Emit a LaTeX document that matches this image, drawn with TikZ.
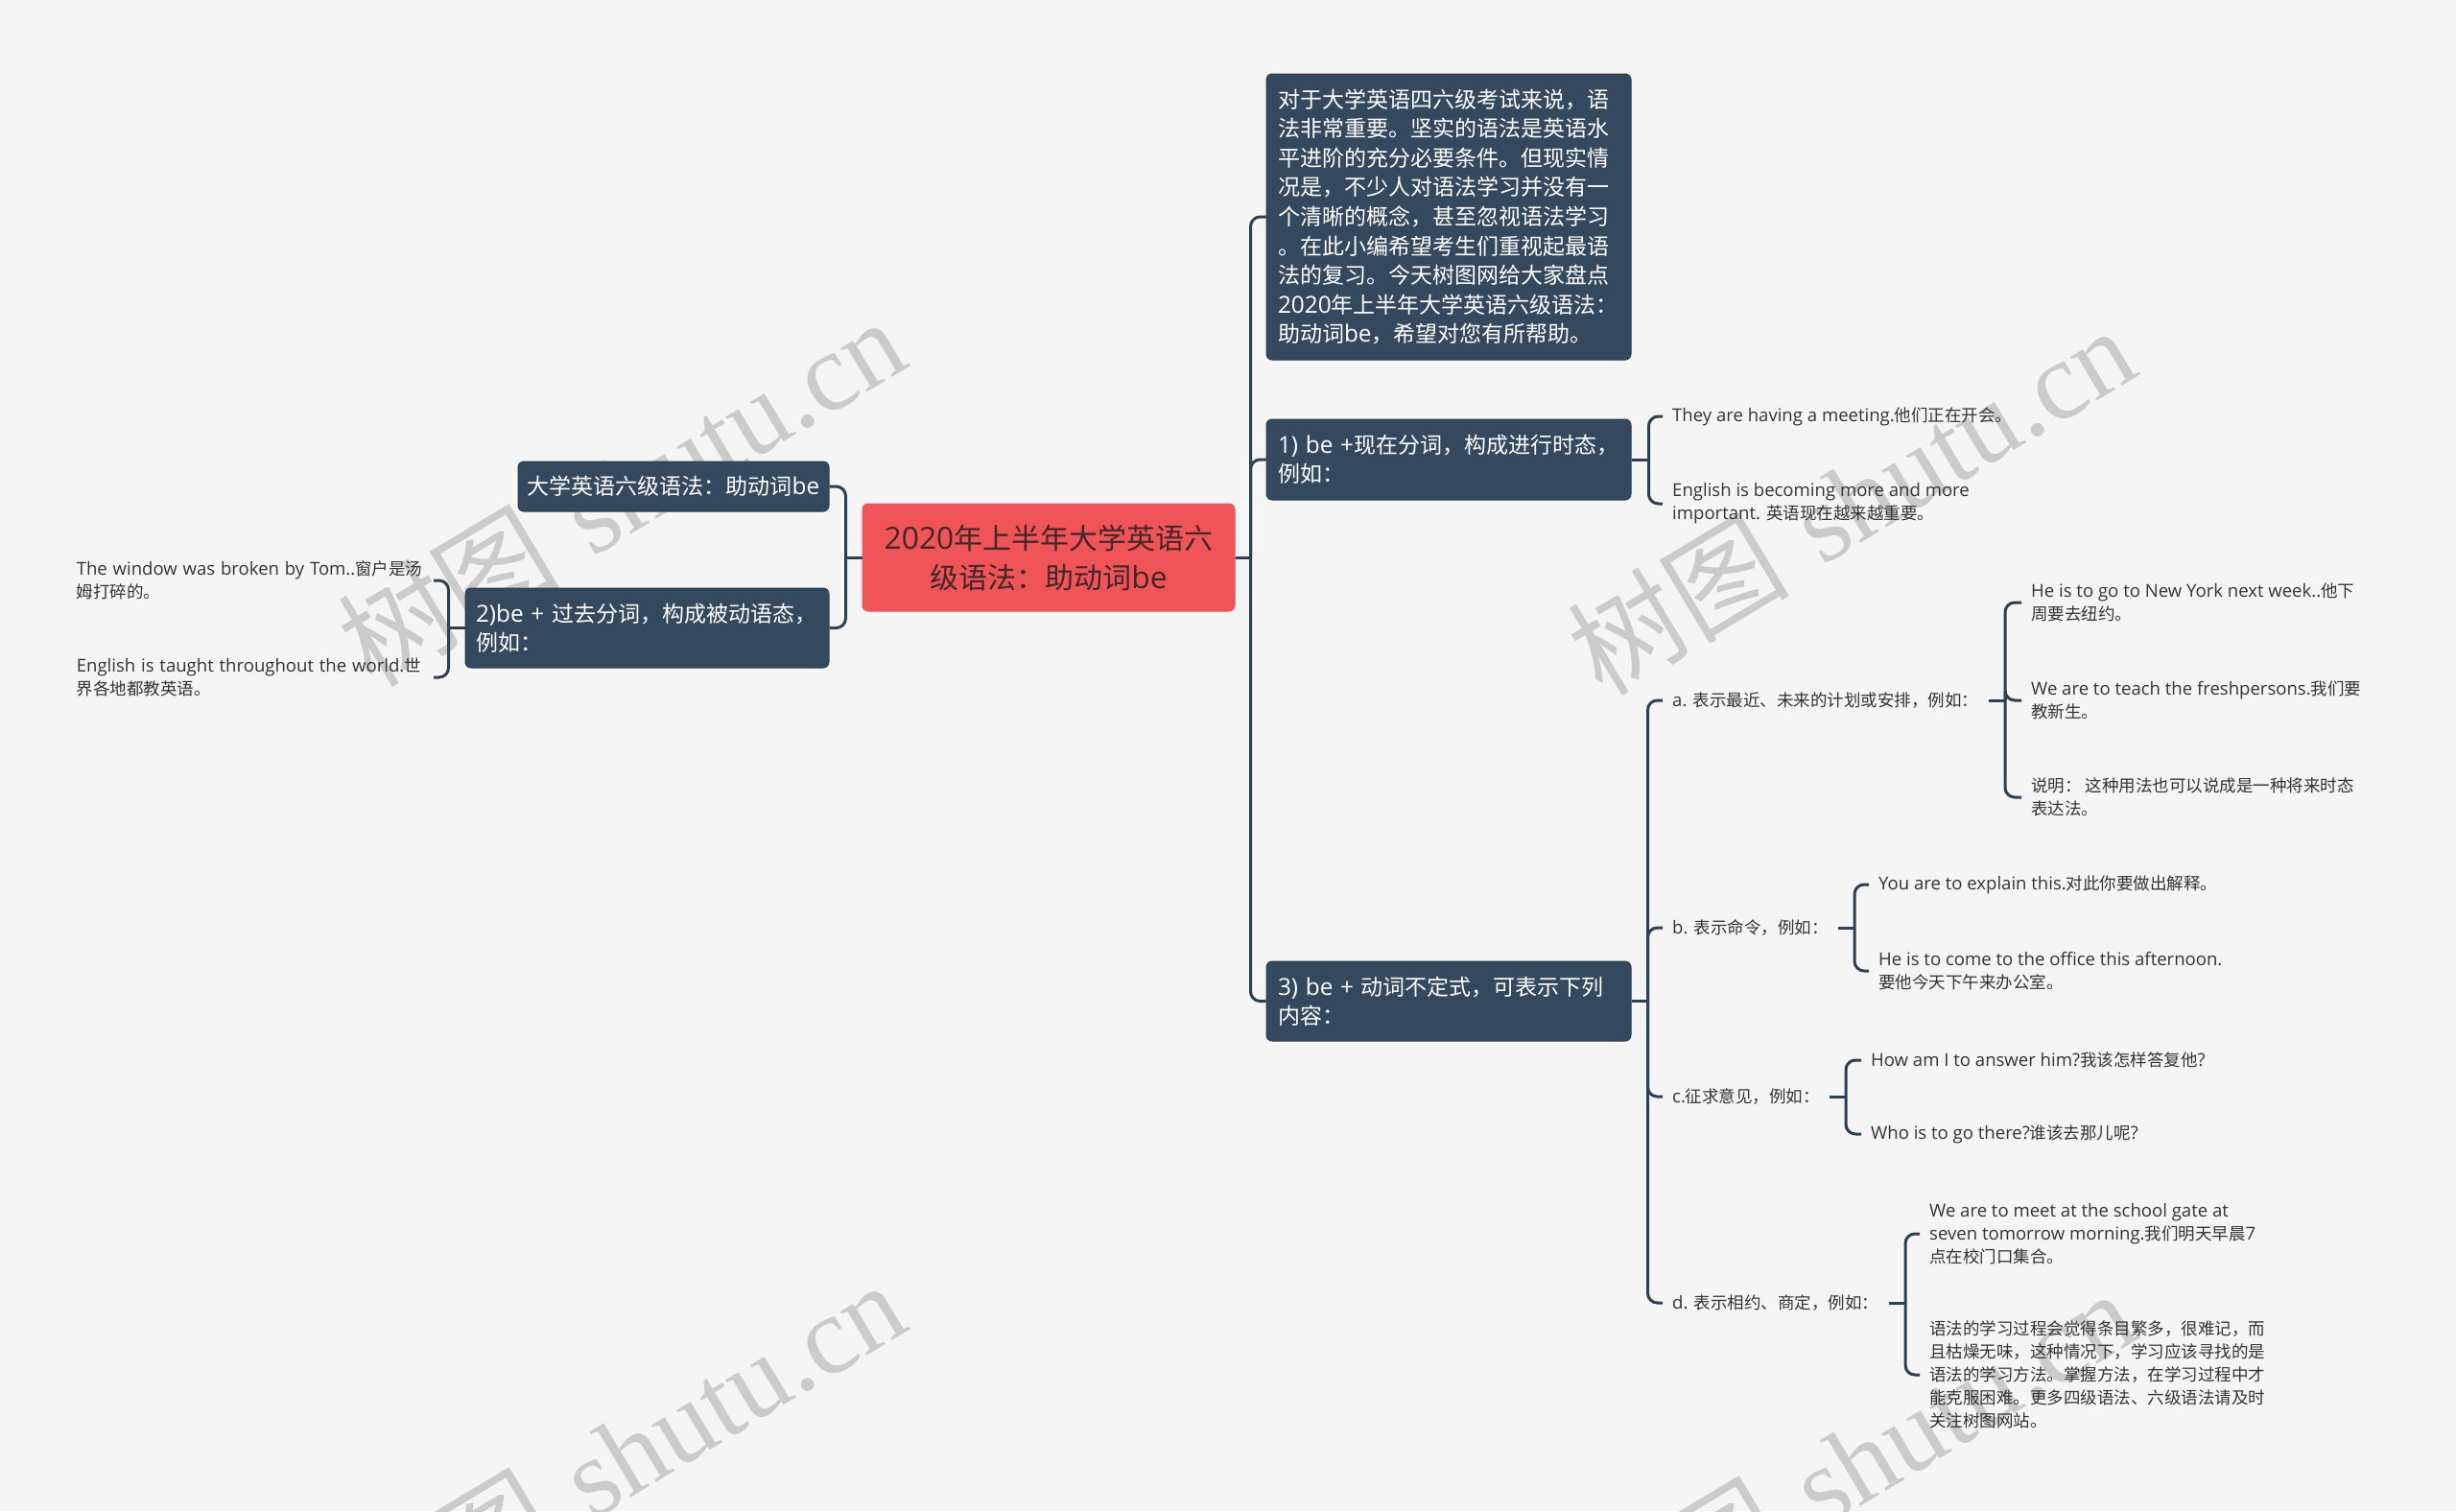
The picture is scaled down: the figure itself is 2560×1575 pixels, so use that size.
\documentclass[tikz,border=0pt]{standalone}
\usepackage{fontspec}
\newfontfamily\cjk{Noto Sans CJK SC}
\newfontfamily\lat[Scale=1.06]{Open Sans}
\newfontfamily\wmserif{Liberation Serif}
\newcommand\E[1]{{\lat #1}}
\definecolor{bgc}{HTML}{F5F5F5}
\definecolor{boxc}{HTML}{34495E}
\definecolor{boxd}{HTML}{2A3B4D}
\definecolor{linec}{HTML}{2E4053}
\definecolor{redc}{HTML}{F05458}
\definecolor{redt}{HTML}{3E2828}
\definecolor{leaft}{HTML}{333333}
\definecolor{wmc}{HTML}{CBCBCB}
\tikzset{
  box/.style={rectangle, rounded corners=6pt, fill=boxc, draw=boxd, line width=1pt,
    text=white, align=left, inner xsep=12pt, inner ysep=0pt,
    font=\cjk\fontsize{23}{30}\selectfont},
  root/.style={rectangle, rounded corners=6pt, fill=redc, draw=redc, line width=1pt,
    text=redt, align=center, inner xsep=10pt, inner ysep=0pt,
    minimum width=388pt, minimum height=112pt, text width=368pt,
    font=\cjk\fontsize{30}{41}\selectfont},
  leaf/.style={anchor=west, align=left, inner xsep=10pt, inner ysep=2pt, text=leaft,
    font=\cjk\fontsize{17.5}{24}\selectfont},
  leafl/.style={leaf, anchor=east, text width=362pt},
  conn/.style={draw=linec, line width=3pt, rounded corners=10pt},
  stub/.style={draw=linec, line width=3pt},
  wmark/.style={rotate=31, text=wmc, inner sep=0pt, font=\fontsize{116}{116}\selectfont},
}
\begin{document}
\begin{tikzpicture}[x=1pt,y=-1pt]
\useasboundingbox (0,0) rectangle (2560,1575);
\fill[bgc] (0,0) rectangle (2560,1575);
% watermarks
\begin{scope}
\clip (0,0) rectangle (2560,1575);
\node[wmark] (wm1) at (647,512) {{\cjk 树图}\ {\wmserif shutu.cn}};
\node[wmark] (wm2) at (1929,521) {{\cjk 树图}\ {\wmserif shutu.cn}};
\node[wmark] (wm3) at (647,1516) {{\cjk 树图}\ {\wmserif shutu.cn}};
\node[wmark] (wm4) at (1929,1525) {{\cjk 树图}\ {\wmserif shutu.cn}};
\end{scope}

% central
\node[root] (C) at (1093,581) {\E{2020}年上半年大学英语六\\级语法：助动词\E{be}};

% left side
\node[box, align=center, inner xsep=8pt, minimum width=324pt, minimum height=52pt, text width=308pt]
  (L1) at (702,507) {大学英语六级语法：助动词\E{be}};
\node[box, inner xsep=11pt, minimum width=379pt, minimum height=83pt, text width=357pt]
  (L2) at (674.5,654.5) {\E{2)be + }过去分词，构成被动语态，\\例如：};
\node[leafl] (LL1) at (452,605) {\E{The window was broken by Tom..}窗户是汤\\姆打碎的。};
\node[leafl] (LL2) at (452,706) {\E{English is taught throughout the world.}世\\界各地都教英语。};

% right side boxes
\node[box, minimum width=380pt, minimum height=298pt, text width=356pt, font=\cjk\fontsize{23}{30.6}\selectfont]
  (I) at (1510,226) {对于大学英语四六级考试来说，语\\法非常重要。坚实的语法是英语水\\平进阶的充分必要条件。但现实情\\况是，不少人对语法学习并没有一\\个清晰的概念，甚至忽视语法学习\\。在此小编希望考生们重视起最语\\法的复习。今天树图网给大家盘点\\\E{2020}年上半年大学英语六级语法：\\助动词\E{be}，希望对您有所帮助。};
\node[box, minimum width=380pt, minimum height=84pt, text width=356pt]
  (R1) at (1510,479) {\E{1) be +}现在分词，构成进行时态，\\例如：};
\node[box, minimum width=380pt, minimum height=83pt, text width=356pt]
  (R3) at (1510,1043.5) {\E{3) be + }动词不定式，可表示下列\\内容：};

% R1 leaves
\node[leaf] (R1a) at (1733,434) {\E{They are having a meeting.}他们正在开会。};
\node[leaf] (R1b) at (1733,525) {\E{English is becoming more and more}\\\E{important. }英语现在越来越重要。};

% R3 children
\node[leaf] (A) at (1733,730) {\E{a. }表示最近、未来的计划或安排，例如：};
\node[leaf] (B) at (1733,967) {\E{b. }表示命令，例如：};
\node[leaf] (Cc) at (1733,1143) {\E{c.}征求意见，例如：};
\node[leaf] (D) at (1733,1358) {\E{d. }表示相约、商定，例如：};

% a leaves
\node[leaf] (A1) at (2107,628) {\E{He is to go to New York next week..}他下\\周要去纽约。};
\node[leaf] (A2) at (2107,730) {\E{We are to teach the freshpersons.}我们要\\教新生。};
\node[leaf] (A3) at (2107,831) {说明：\ 这种用法也可以说成是一种将来时态\\表达法。};
% b leaves
\node[leaf] (B1) at (1948,922) {\E{You are to explain this.}对此你要做出解释。};
\node[leaf] (B2) at (1948,1012) {\E{He is to come to the office this afternoon.}\\要他今天下午来办公室。};
% c leaves
\node[leaf] (C1) at (1940,1105) {\E{How am I to answer him?}我该怎样答复他\E{?}};
\node[leaf] (C2) at (1940,1182) {\E{Who is to go there?}谁该去那儿呢\E{?}};
% d leaves
\node[leaf] (D1) at (2001,1286) {\E{We are to meet at the school gate at}\\\E{seven tomorrow morning.}我们明天早晨\E{7}\\点在校门口集合。};
\node[leaf] (D2) at (2001,1433) {语法的学习过程会觉得条目繁多，很难记，而\\且枯燥无味，这种情况下，学习应该寻找的是\\语法的学习方法。掌握方法，在学习过程中才\\能克服困难。更多四级语法、六级语法请及时\\关注树图网站。};

% junctions
\path (C.west) ++(-17,0) coordinate (Jl);
\path (L2.west) ++(-17,0) coordinate (Jll);
\path (C.east) ++(16,0) coordinate (Jr);
\path (R1.east) ++(18,0) coordinate (J1);
\path (R3.east) ++(17,0) coordinate (J3);
\path (A.west) ++(357,0) coordinate (Ja);
\path (B.west) ++(200,0) coordinate (Jb);
\path (Cc.west) ++(191,0) coordinate (Jc);
\path (D.west) ++(253,0) coordinate (Jd);

% connectors left
\draw[stub] (C.west) -- (Jl);
\draw[conn] (L1.east) -| (Jl);
\draw[conn] (L2.east) -| (Jl);
\draw[stub] (L2.west) -- (Jll);
\draw[conn] (LL1.east) -| (Jll);
\draw[conn] (LL2.east) -| (Jll);

% connectors right
\draw[stub] (C.east) -- (Jr);
\draw[conn] (I.west) -| (Jr);
\draw[conn] (R1.west) -| (Jr);
\draw[conn] (R3.west) -| (Jr);

\draw[stub] (R1.east) -- (J1);
\draw[conn] (R1a.west) -| (J1);
\draw[conn] (R1b.west) -| (J1);

\draw[stub] (R3.east) -- (J3);
\draw[conn] (A.west) -| (J3);
\draw[conn] (B.west) -| (J3);
\draw[conn] (Cc.west) -| (J3);
\draw[conn] (D.west) -| (J3);

\draw[stub] (A.east) -- (Ja);
\draw[conn] (A1.west) -| (Ja);
\draw[conn] (A2.west) -| (Ja);
\draw[conn] (A3.west) -| (Ja);

\draw[stub] (B.east) -- (Jb);
\draw[conn] (B1.west) -| (Jb);
\draw[conn] (B2.west) -| (Jb);

\draw[stub] (Cc.east) -- (Jc);
\draw[conn] (C1.west) -| (Jc);
\draw[conn] (C2.west) -| (Jc);

\draw[stub] (D.east) -- (Jd);
\draw[conn] (D1.west) -| (Jd);
\draw[conn] (D2.west) -| (Jd);
\end{tikzpicture}
\end{document}
